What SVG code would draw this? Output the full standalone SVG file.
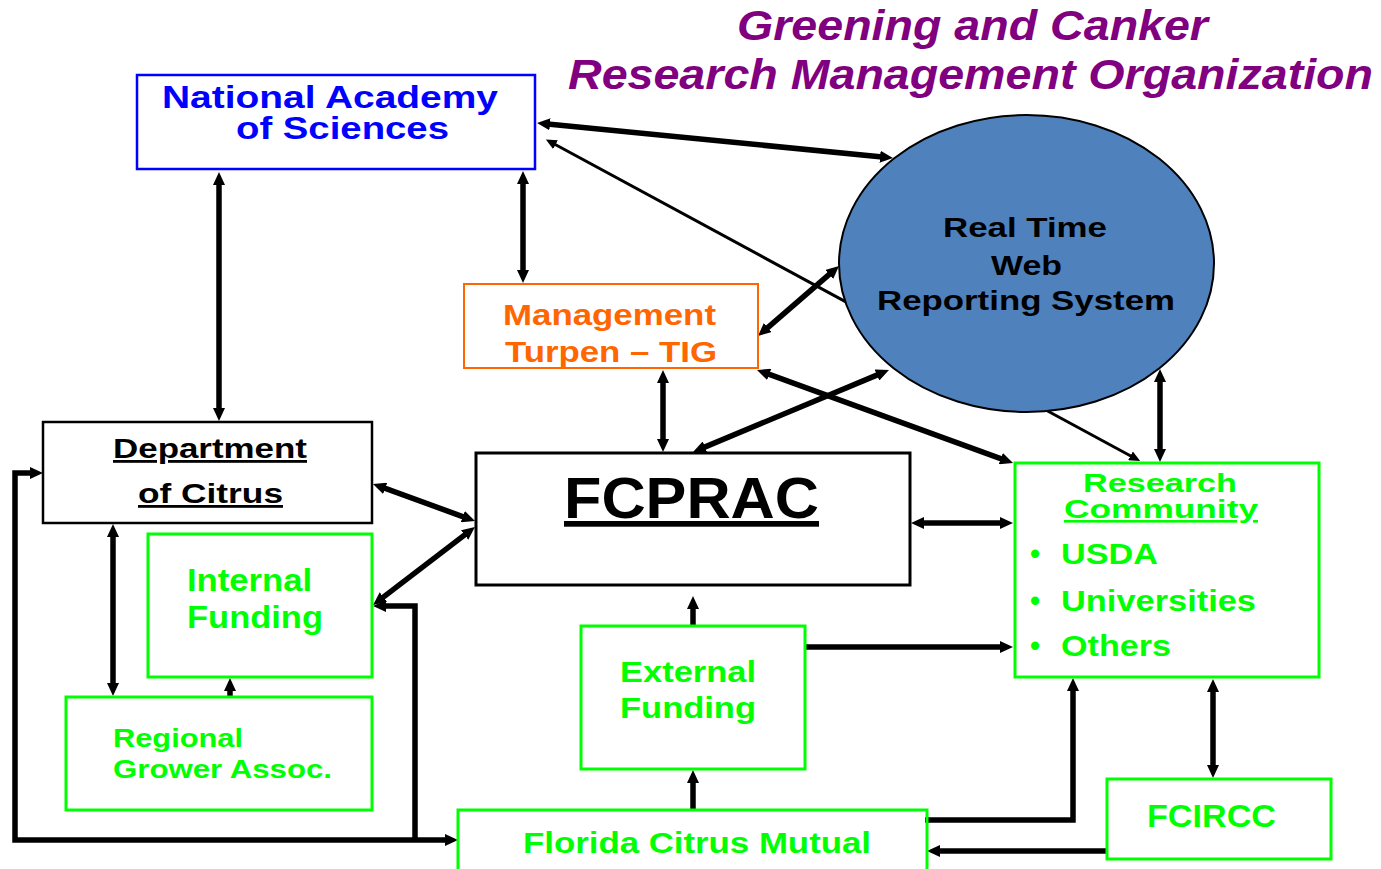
<svg xmlns="http://www.w3.org/2000/svg" width="1381" height="869" viewBox="0 0 1381 869">
<style>
text{font-family:"Liberation Sans",Arial,sans-serif;font-weight:bold}
.title{font-size:42px;font-style:italic;fill:#800080}
.blue{fill:#0000FF}
.orange{fill:#FF6600}
.green{fill:#00FF00}
.black{fill:#000}
.ln{stroke:#000;stroke-width:5.5;fill:none}
.thin{stroke:#000;stroke-width:3;fill:none}
.box{fill:none}
</style>
<defs>
<marker id="ah" markerUnits="userSpaceOnUse" markerWidth="13" markerHeight="12" viewBox="0 0 13 12" refX="5" refY="6" orient="auto-start-reverse"><path d="M0,0 L13,6 L0,12 z" fill="#000"/></marker>
<marker id="ahs" markerUnits="userSpaceOnUse" markerWidth="11" markerHeight="10" viewBox="0 0 11 10" refX="4" refY="5" orient="auto-start-reverse"><path d="M0,0 L11,5 L0,10 z" fill="#000"/></marker>
</defs>
<rect width="1381" height="869" fill="#fff"/>
<g id="title">
<text class="title" x="737" y="40" textLength="471" lengthAdjust="spacingAndGlyphs">Greening and Canker</text>
<text class="title" x="568" y="89" textLength="805" lengthAdjust="spacingAndGlyphs">Research Management Organization</text>
</g>
<g id="connectors">
<line class="thin" x1="552" y1="142.8" x2="1134" y2="457.7" marker-start="url(#ahs)" marker-end="url(#ahs)"/>
<line class="ln" x1="219" y1="180" x2="219" y2="413" marker-start="url(#ah)" marker-end="url(#ah)"/>
<line class="ln" x1="523" y1="179" x2="523" y2="275" marker-start="url(#ah)" marker-end="url(#ah)"/>
<line class="ln" x1="545" y1="123.8" x2="885" y2="157.2" marker-start="url(#ah)" marker-end="url(#ah)"/>
<line class="ln" x1="764" y1="330.8" x2="833" y2="271.2" marker-start="url(#ah)" marker-end="url(#ah)"/>
<line class="ln" x1="663" y1="378" x2="663" y2="444" marker-start="url(#ah)" marker-end="url(#ah)"/>
<line class="ln" x1="764.5" y1="372.7" x2="1005.5" y2="460.3" marker-start="url(#ah)" marker-end="url(#ah)"/>
<line class="ln" x1="700.4" y1="448.9" x2="881.6" y2="373.1" marker-start="url(#ah)" marker-end="url(#ah)"/>
<line class="ln" x1="919" y1="523" x2="1005" y2="523" marker-start="url(#ah)" marker-end="url(#ah)"/>
<line class="ln" x1="1160" y1="377" x2="1160" y2="454" marker-start="url(#ah)" marker-end="url(#ah)"/>
<line class="ln" x1="380.5" y1="486.7" x2="467.5" y2="518.3" marker-start="url(#ah)" marker-end="url(#ah)"/>
<line class="ln" x1="379.4" y1="600.1" x2="468.6" y2="531.9" marker-start="url(#ah)" marker-end="url(#ah)"/>
<line class="ln" x1="113" y1="532" x2="113" y2="688" marker-start="url(#ah)" marker-end="url(#ah)"/>
<line class="ln" x1="230" y1="697" x2="230" y2="686" marker-end="url(#ah)"/>
<line class="ln" x1="693" y1="810" x2="693" y2="778" marker-end="url(#ah)"/>
<line class="ln" x1="693" y1="626" x2="693" y2="604" marker-end="url(#ah)"/>
<line class="ln" x1="805" y1="647" x2="1005" y2="647" marker-end="url(#ah)"/>
<path class="ln" d="M35,473 L15,473 L15,840 L450,840" marker-start="url(#ah)" marker-end="url(#ah)"/>
<path class="ln" d="M415,840 L415,606 L381,606" marker-end="url(#ah)"/>
<path class="ln" d="M925,820 L1073,820 L1073,686" marker-end="url(#ah)"/>
<path class="ln" d="M1107,851 L935,851" marker-end="url(#ah)"/>
<line class="ln" x1="1213" y1="687" x2="1213" y2="770" marker-start="url(#ah)" marker-end="url(#ah)"/>
</g>
<g id="nas">
<rect class="box" x="137" y="75" width="398" height="94" stroke="#0000FF" stroke-width="2.5"/>
<text class="blue" font-size="31" x="162" y="108" textLength="336" lengthAdjust="spacingAndGlyphs">National Academy</text>
<text class="blue" font-size="31" x="236" y="139" textLength="213" lengthAdjust="spacingAndGlyphs">of Sciences</text>
</g>
<g id="mgmt">
<rect class="box" x="464" y="284" width="294" height="84" stroke="#FF6600" stroke-width="2"/>
<text class="orange" font-size="29" x="503" y="325" textLength="213" lengthAdjust="spacingAndGlyphs">Management</text>
<text class="orange" font-size="29" x="505" y="362" textLength="212" lengthAdjust="spacingAndGlyphs">Turpen – TIG</text>
</g>
<g id="rtwrs">
<ellipse cx="1026.5" cy="263.5" rx="187.5" ry="148.5" fill="#4F81BD" stroke="#000" stroke-width="2"/>
<text class="black" font-size="27" x="943" y="237" textLength="164" lengthAdjust="spacingAndGlyphs">Real Time</text>
<text class="black" font-size="27" x="991" y="275" textLength="71" lengthAdjust="spacingAndGlyphs">Web</text>
<text class="black" font-size="27" x="877" y="310" textLength="298" lengthAdjust="spacingAndGlyphs">Reporting System</text>
</g>
<g id="dept">
<rect class="box" x="43" y="422" width="329" height="101" stroke="#000" stroke-width="2.5"/>
<text class="black" font-size="28" x="113" y="458" textLength="194" lengthAdjust="spacingAndGlyphs" text-decoration="underline">Department</text>
<text class="black" font-size="28" x="138" y="503" textLength="145" lengthAdjust="spacingAndGlyphs" text-decoration="underline">of Citrus</text>
</g>
<g id="fcprac">
<rect class="box" x="476" y="453" width="434" height="132" stroke="#000" stroke-width="3"/>
<text class="black" font-size="57" x="564" y="518" textLength="255" lengthAdjust="spacingAndGlyphs" text-decoration="underline">FCPRAC</text>
</g>
<g id="rc">
<rect class="box" x="1015" y="463" width="304" height="214" stroke="#00FF00" stroke-width="3"/>
<text class="green" font-size="26" x="1083" y="492" textLength="154" lengthAdjust="spacingAndGlyphs">Research</text>
<text class="green" font-size="26" x="1064" y="518" textLength="194" lengthAdjust="spacingAndGlyphs" text-decoration="underline">Community</text>
<text class="green" font-size="29" x="1035" y="564" text-anchor="middle">•</text>
<text class="green" font-size="29" x="1061" y="564" textLength="97" lengthAdjust="spacingAndGlyphs">USDA</text>
<text class="green" font-size="29" x="1035" y="611" text-anchor="middle">•</text>
<text class="green" font-size="29" x="1061" y="611" textLength="195" lengthAdjust="spacingAndGlyphs">Universities</text>
<text class="green" font-size="29" x="1035" y="656" text-anchor="middle">•</text>
<text class="green" font-size="29" x="1061" y="656" textLength="110" lengthAdjust="spacingAndGlyphs">Others</text>
</g>
<g id="internal">
<rect class="box" x="148" y="534" width="224" height="143" stroke="#00FF00" stroke-width="3"/>
<text class="green" font-size="31" x="187" y="591" textLength="125" lengthAdjust="spacingAndGlyphs">Internal</text>
<text class="green" font-size="31" x="187" y="628" textLength="136" lengthAdjust="spacingAndGlyphs">Funding</text>
</g>
<g id="regional">
<rect class="box" x="66" y="697" width="306" height="113" stroke="#00FF00" stroke-width="3"/>
<text class="green" font-size="26" x="113" y="747" textLength="130" lengthAdjust="spacingAndGlyphs">Regional</text>
<text class="green" font-size="26" x="113" y="778" textLength="219" lengthAdjust="spacingAndGlyphs">Grower Assoc.</text>
</g>
<g id="external">
<rect class="box" x="581" y="626" width="224" height="143" stroke="#00FF00" stroke-width="3"/>
<text class="green" font-size="30" x="620" y="682" textLength="136" lengthAdjust="spacingAndGlyphs">External</text>
<text class="green" font-size="30" x="620" y="718" textLength="136" lengthAdjust="spacingAndGlyphs">Funding</text>
</g>
<g id="florida">
<rect class="box" x="458" y="810" width="469" height="80" stroke="#00FF00" stroke-width="3"/>
<text class="green" font-size="29" x="523" y="853" textLength="348" lengthAdjust="spacingAndGlyphs">Florida Citrus Mutual</text>
</g>
<g id="fcircc">
<rect class="box" x="1107" y="779" width="224" height="80" stroke="#00FF00" stroke-width="3"/>
<text class="green" font-size="31" x="1147" y="827" textLength="129" lengthAdjust="spacingAndGlyphs">FCIRCC</text>
</g>
</svg>
